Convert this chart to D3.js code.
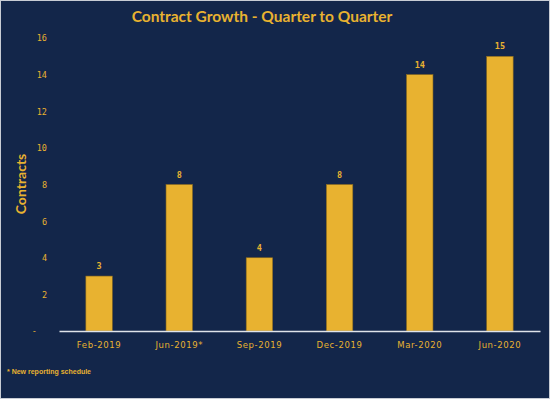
<!DOCTYPE html>
<html><head><meta charset="utf-8">
<script src="https://cdn.jsdelivr.net/npm/d3@7"></script>
<style>html,body{margin:0;padding:0;background:#fff;}svg{display:block;}</style>
</head><body>
<script>
const categories = ["Feb-2019","Jun-2019*","Sep-2019","Dec-2019","Mar-2020","Jun-2020"];
const contracts = [3, 8, 4, 8, 14, 15];
const yTicks = [0, 2, 4, 6, 8, 10, 12, 14, 16];
const title = "Contract Growth - Quarter to Quarter";
const yTitle = "Contracts";
const footnote = "* New reporting schedule";

const W = 550, H = 399;
const navy = "#13264a", gold = "#e8b230";
const svg = d3.select("body").append("svg").attr("width", W).attr("height", H);
svg.append("rect").attr("x",0.5).attr("y",0.5).attr("width",W-1).attr("height",H-1)
  .attr("fill", navy).attr("stroke", "#c8ccd4").attr("stroke-width", 1);

const x = d3.scaleBand().domain(categories).range([59, 540]).paddingInner(0.67).paddingOuter(0.335);
const y = d3.scaleLinear().domain([0, 16]).range([331, 38]);

svg.append("text").attr("x", 262).attr("y", 22).attr("text-anchor","middle")
  .attr("font-family","Lato").attr("font-weight","bold").attr("font-size",15.5)
  .attr("fill", gold).text(title);

svg.append("text").attr("transform","translate(26,184) rotate(-90)").attr("text-anchor","middle")
  .attr("font-family","Lato").attr("font-weight","bold").attr("font-size",14)
  .attr("fill", gold).text(yTitle);

const yAxis = d3.axisLeft(y).tickValues(yTicks).tickSize(0).tickPadding(0)
  .tickFormat(d => d === 0 ? "-  " : d3.format("d")(d));
const ya = svg.append("g").attr("transform","translate(47,0)").call(yAxis);
ya.select(".domain").remove();
ya.selectAll("text").attr("fill", gold).attr("font-family","DejaVu Sans Mono").attr("font-size",8.5)
  .attr("dy","0.35em").style("white-space","pre").attr("xml:space","preserve");

svg.append("g").selectAll("rect").data(contracts).join("rect")
  .attr("x",(d,i)=>x(categories[i])).attr("width",x.bandwidth())
  .attr("y",d=>y(d)).attr("height",d=>y(0)-y(d))
  .attr("fill", gold).attr("stroke","#8a6a1e").attr("stroke-width",0.6);

svg.append("g").selectAll("text").data(contracts).join("text")
  .attr("x",(d,i)=>x(categories[i])+x.bandwidth()/2).attr("y",d=>y(d)-7)
  .attr("text-anchor","middle").attr("font-family","DejaVu Sans Mono").attr("font-weight","bold")
  .attr("font-size",8.5).attr("fill",gold).text(d=>d);

const xAxis = d3.axisBottom(x).tickSize(0).tickPadding(11);
const xa = svg.append("g").attr("transform","translate(0,331)").call(xAxis);
xa.select(".domain").attr("stroke","#dfe3ea").attr("stroke-width",1.3);
xa.selectAll("text").attr("fill",gold).attr("font-family","DejaVu Sans").attr("font-size",8.5)
  .attr("letter-spacing","0.6px");

svg.append("text").attr("x",7).attr("y",374).attr("font-family","Liberation Sans Narrow, Liberation Sans")
  .attr("font-weight","bold").attr("font-size",7).attr("fill",gold).text(footnote);
</script>
</body></html>
